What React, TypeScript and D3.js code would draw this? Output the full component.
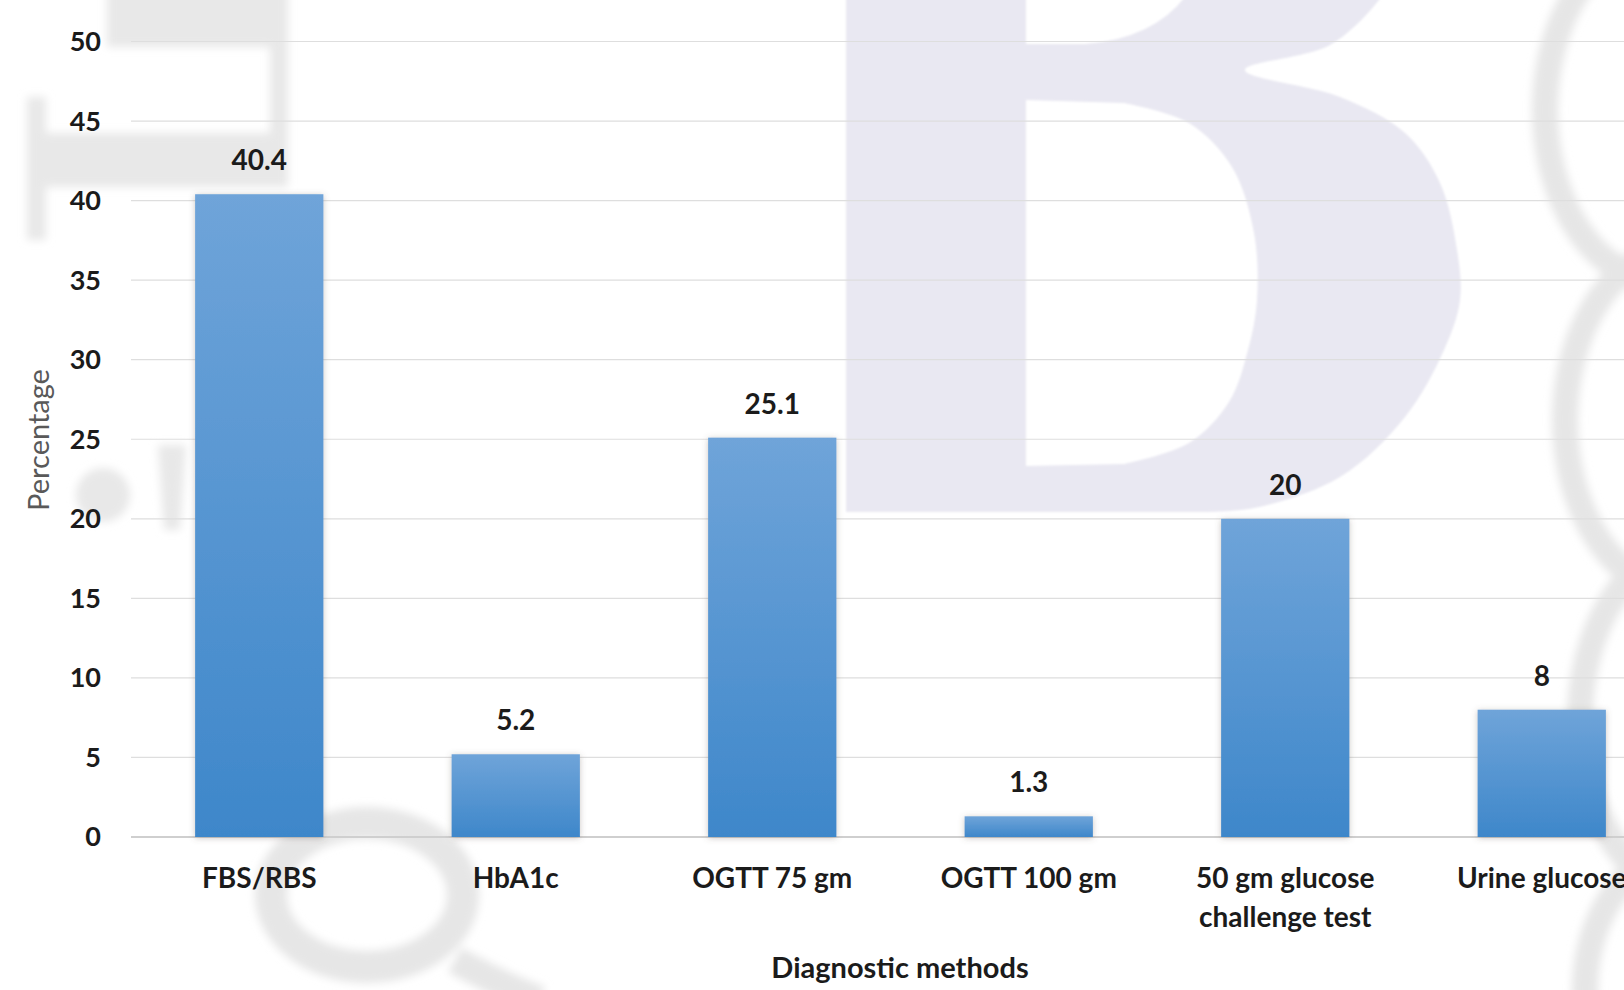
import React from "react";
import * as d3 from "d3";

// Diagnostic methods used and the share (%) reporting each one
const categories: string[][] = [
  ["FBS/RBS"],
  ["HbA1c"],
  ["OGTT 75 gm"],
  ["OGTT 100 gm"],
  ["50 gm glucose", "challenge test"],
  ["Urine glucose"],
];
const percentages: number[] = [40.4, 5.2, 25.1, 1.3, 20, 8];
const yTicks: number[] = [0, 5, 10, 15, 20, 25, 30, 35, 40, 45, 50];

const W = 1624;
const H = 990;
const FONT = "Lato, 'Open Sans', 'Noto Sans', sans-serif";
const TEXT = "#1b1b1b";

// Outline of the decorative background letter "B"
const bBowl: [number, number][] = [
  [1390, -20],
  [1379, 0],
  [1330, 45],
  [1245, 70],
  [1340, 97],
  [1405, 133],
  [1440, 183],
  [1457, 250],
  [1460, 300],
  [1444, 350],
  [1405, 417],
  [1340, 477],
  [1254, 508],
  [1200, 512],
];
const bLowerCounter: [number, number][] = [
  [1124, 103],
  [1189, 123],
  [1232, 167],
  [1254, 233],
  [1257, 300],
  [1248, 350],
  [1229, 402],
  [1189, 443],
  [1124, 464],
];

export default function App() {
  const keys = categories.map((c) => c.join(" "));
  const x = d3
    .scaleBand<string>()
    .domain(keys)
    .range([131, 1670])
    .paddingInner(0.5)
    .paddingOuter(0.25);
  const y = d3.scaleLinear().domain([0, 50]).range([837, 41.5]);

  const curve = d3.line().curve(d3.curveCatmullRom.alpha(0.5));
  const bowl = curve(bBowl)!.slice(1); // drop leading "M"
  const counter = curve(bLowerCounter)!.slice(1);
  const bPath =
    `M846,-20 L${bowl} L846,512 Z ` +
    `M1026,100 L${counter} L1026,466 Z ` +
    `M1026,-20 L1196,-20 Q1165,38 1085,44 L1026,44 Z`;

  return (
    <svg
      width={W}
      height={H}
      viewBox={`0 0 ${W} ${H}`}
      style={{ position: "absolute", left: 0, top: 0, background: "#fff" }}
    >
      <defs>
        <linearGradient id="barFill" x1="0" y1="0" x2="0" y2="1">
          <stop offset="0%" stopColor="#6fa4d9" />
          <stop offset="100%" stopColor="#3e87ca" />
        </linearGradient>
        <filter id="barShadow" x="-20%" y="-10%" width="140%" height="120%">
          <feDropShadow dx="0" dy="1" stdDeviation="3" floodColor="#6b5f55" floodOpacity="0.35" />
        </filter>
        <filter id="soft" x="-20%" y="-20%" width="140%" height="140%">
          <feGaussianBlur stdDeviation="4" />
        </filter>
        <filter id="softer" x="-20%" y="-20%" width="140%" height="140%">
          <feGaussianBlur stdDeviation="1.2" />
        </filter>
      </defs>

      <rect x={0} y={0} width={W} height={H} fill="#ffffff" />

      {/* watermark */}
      <g>
        <path d={bPath} fill="#e9e8f2" fillRule="evenodd" filter="url(#softer)" />
        <g filter="url(#soft)" fill="#e8e8e8" stroke="none">
          <rect x={107} y={-10} width={180} height={57} />
          <rect x={270} y={-10} width={18} height={197} />
          <rect x={33} y={133} width={255} height={54} />
          <rect x={27} y={97} width={19} height={143} />
          <circle cx={103} cy={495} r={27} />
          <path d="M158,445 L186,445 L180,530 L164,530 Z" />
        </g>
        <g filter="url(#soft)" fill="none" stroke="#e6e6e6">
          <ellipse cx={367} cy={895} rx={96} ry={72} strokeWidth={32} />
          <path d="M455,960 Q500,985 540,1000" strokeWidth={28} />
          <ellipse cx={1660} cy={110} rx={115} ry={170} strokeWidth={26} />
          <ellipse cx={1680} cy={420} rx={115} ry={170} strokeWidth={26} />
          <ellipse cx={1690} cy={720} rx={110} ry={170} strokeWidth={26} />
          <ellipse cx={1690} cy={990} rx={105} ry={140} strokeWidth={26} />
        </g>
      </g>

      {/* horizontal gridlines */}
      <g>
        {yTicks.map((t) => (
          <line
            key={t}
            x1={131}
            x2={W}
            y1={y(t)}
            y2={y(t)}
            stroke={t === 0 ? "#cfcfcf" : "#dedede"}
            strokeWidth={t === 0 ? 2 : 1.2}
          />
        ))}
      </g>

      {/* y tick labels */}
      <g fontFamily={FONT} fontWeight={700} fontSize={27} fill={TEXT}>
        {yTicks.map((t) => (
          <text key={t} x={101} y={y(t)} dy="0.35em" textAnchor="end">
            {t}
          </text>
        ))}
      </g>

      {/* bars */}
      <g filter="url(#barShadow)">
        {keys.map((k, i) => (
          <rect
            key={k}
            x={x(k)!}
            width={x.bandwidth()}
            y={y(percentages[i])}
            height={y(0) - y(percentages[i])}
            fill="url(#barFill)"
          />
        ))}
      </g>

      {/* value labels */}
      <g fontFamily={FONT} fontWeight={700} fontSize={28} fill={TEXT} textAnchor="middle">
        {keys.map((k, i) => (
          <text key={k} x={x(k)! + x.bandwidth() / 2} y={y(percentages[i]) - 24}>
            {percentages[i]}
          </text>
        ))}
      </g>

      {/* category labels */}
      <g fontFamily={FONT} fontWeight={700} fontSize={28} fill={TEXT} textAnchor="middle">
        {categories.map((lines, i) => (
          <text key={keys[i]} x={x(keys[i])! + x.bandwidth() / 2} y={888}>
            {lines.map((ln, j) => (
              <tspan key={j} x={x(keys[i])! + x.bandwidth() / 2} dy={j === 0 ? 0 : 39}>
                {ln}
              </tspan>
            ))}
          </text>
        ))}
      </g>

      {/* axis titles */}
      <text
        x={900}
        y={978}
        textAnchor="middle"
        fontFamily={FONT}
        fontWeight={700}
        fontSize={29}
        fill={TEXT}
      >
        Diagnostic methods
      </text>
      <text
        transform="translate(49,440) rotate(-90)"
        textAnchor="middle"
        fontFamily={FONT}
        fontSize={29}
        fill="#595959"
      >
        Percentage
      </text>
    </svg>
  );
}
